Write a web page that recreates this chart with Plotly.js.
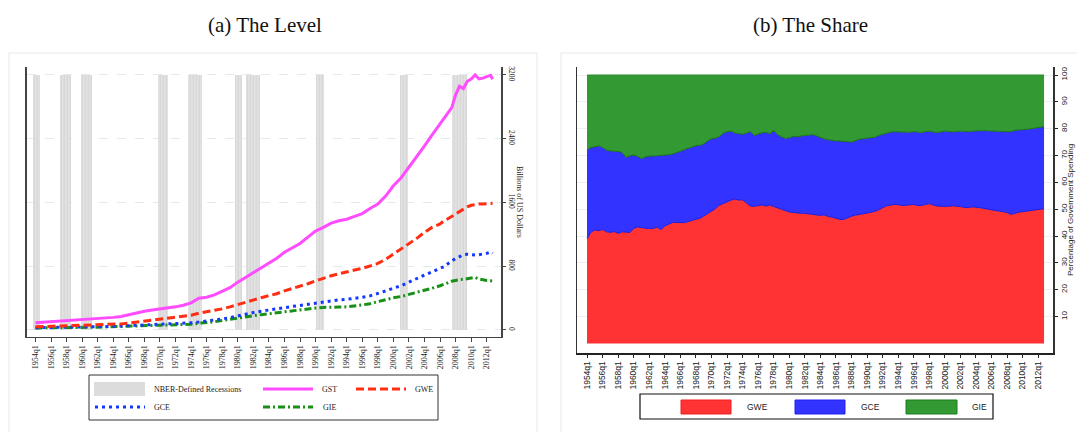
<!DOCTYPE html>
<html>
<head>
<meta charset="utf-8">
<script src="https://cdn.plot.ly/plotly-3.0.1.min.js"></script>
<style>
  html, body { margin: 0; padding: 0; background: #ffffff; }
  #chart { width: 1077px; height: 432px; }
</style>
</head>
<body>
<div id="chart"></div>
<script>
// ---------- Government spending, billions of US dollars ----------
const levelPeriods = [
  "1954q1","1955q1","1956q1","1957q1","1958q1","1959q1","1960q1","1961q1","1962q1","1963q1",
  "1964q1","1965q1","1966q1","1967q1","1968q1","1969q1","1970q1","1971q1","1972q1","1973q1",
  "1974q1","1975q1","1976q1","1977q1","1978q1","1979q1","1980q1","1981q1","1982q1","1983q1",
  "1984q1","1985q1","1986q1","1987q1","1988q1","1989q1","1990q1","1991q1","1992q1","1993q1",
  "1994q1","1995q1","1996q1","1997q1","1998q1","1999q1","2000q1","2001q1","2002q1","2003q1",
  "2004q1","2005q1","2006q1","2006q3","2007q1","2007q3","2008q1","2008q3","2009q1","2009q3",
  "2010q1","2010q3","2011q1","2011q3","2012q1","2012q3","2012q4"
];
const gst = [
  92,98,108,112,117,122,125,132,140,150,
  158,168,190,220,235,250,262,278,290,310,
  340,398,410,440,480,530,600,660,720,775,
  835,900,975,1030,1085,1165,1240,1288,1340,1370,
  1390,1425,1460,1525,1580,1680,1810,1910,2040,2170,
  2310,2450,2580,2650,2720,2790,2950,3060,3030,3120,
  3150,3200,3150,3160,3180,3195,3146
];
const gwe = [
  40,43,47,50,52,54,56,59,62,66,
  70,76,86,98,108,119,130,141,152,165,
  185,210,226,243,265,290,320,350,380,405,
  430,455,490,520,545,580,615,650,680,705,
  732,752,772,800,835,885,950,1010,1080,1150,
  1225,1290,1330,1370,1395,1425,1460,1490,1515,1545,
  1565,1575,1580,1582,1585,1590,1590
];
const gce = [
  28,29,31,33,35,36,38,40,42,44,
  46,49,53,58,62,66,70,74,78,83,
  90,100,110,122,138,155,178,198,218,235,
  252,268,283,295,308,322,335,350,368,378,
  385,395,410,428,455,490,525,555,600,640,
  690,730,770,795,830,865,900,920,945,950,
  945,940,945,950,962,980,962
];
const gie = [
  25,25,27,28,29,30,31,33,35,38,
  41,44,49,53,56,58,59,60,61,64,
  72,85,92,103,118,135,150,165,178,192,
  205,218,232,245,256,266,275,283,290,288,
  290,300,314,330,355,382,405,420,445,470,
  495,525,555,570,592,612,625,632,636,645,
  655,660,640,628,622,618,615
];

// NBER recession spans, decimal years
const recessionStart = [1953.7, 1957.1, 1959.9, 1969.7, 1973.65, 1979.65, 1981.1, 1990.05, 2000.85, 2007.55];
const recessionEnd   = [1954.6, 1958.5, 1961.2, 1971.0, 1975.4, 1980.6, 1982.9, 1991.1, 2001.9, 2009.4];
const recessionBandTop = 3200;

// ---------- Shares of government spending, percent (half-yearly) ----------
const shareGWE = [
  39.0,41.5,42.3,42.0,42.5,41.6,41.4,41.7,41.0,41.6,
  41.5,41.3,42.9,43.4,43.2,42.9,42.9,42.8,43.4,42.4,
  43.8,44.5,45.1,45.1,45.1,45.0,45.4,46.0,46.3,46.6,
  47.5,48.4,49.5,50.2,51.5,52.2,52.8,53.4,53.8,53.4,
  53.5,52.5,51.2,51.1,51.4,51.6,51.2,51.6,51.0,50.5,
  50.0,49.4,49.0,48.8,48.6,48.5,48.5,48.3,48.1,47.7,
  47.7,47.9,47.3,47.1,46.7,46.2,46.2,46.9,47.4,47.8,
  48.0,48.3,48.6,48.9,49.2,49.8,50.7,51.3,51.5,51.8,
  51.7,51.4,51.5,51.7,51.8,51.4,51.4,51.8,52.1,51.6,
  51.2,51.1,51.0,51.1,51.3,51.2,51.0,50.7,50.6,50.9,
  50.8,50.6,50.3,50.0,49.8,49.6,49.3,49.1,48.8,48.1,
  48.6,48.9,49.1,49.3,49.6,49.7,49.9,50.0,50.2
];
const shareGCE = [
  33.1,31.5,31.0,31.6,30.5,30.4,30.3,30.0,30.5,29.6,
  27.8,28.6,27.3,26.3,25.6,26.6,26.9,27.0,26.5,27.5,
  26.3,25.8,25.5,25.9,26.5,27.2,27.3,27.3,27.4,27.2,
  26.8,27.1,26.8,26.3,25.5,26.1,26.1,25.7,24.6,24.8,
  24.4,25.9,27.7,26.4,26.5,26.9,27.4,26.6,28.3,27.3,
  27.0,27.0,27.6,28.4,28.4,28.8,29.0,29.3,29.7,29.6,
  28.9,28.3,28.6,28.5,28.7,29.2,29.2,28.3,27.6,27.9,
  28.1,28.0,27.8,27.7,27.6,27.7,27.3,27.0,27.2,27.1,
  27.1,27.3,27.1,27.0,27.1,27.4,27.2,27.1,27.0,27.2,
  27.4,27.7,28.1,27.9,27.5,27.7,28.1,28.3,28.3,28.2,
  28.4,28.7,29.0,29.2,29.3,29.4,29.6,29.7,30.1,30.8,
  30.8,30.6,30.5,30.3,30.3,30.5,30.5,30.6,30.6
];
const shareGIE = [
  27.9,27.0,26.7,26.4,27.0,28.0,28.3,28.3,28.5,28.8,
  30.7,30.1,29.8,30.3,31.2,30.5,30.2,30.2,30.1,30.1,
  29.9,29.7,29.4,29.0,28.4,27.8,27.3,26.7,26.3,26.2,
  25.7,24.5,23.7,23.5,23.0,21.7,21.1,20.9,21.6,21.8,
  22.1,21.6,21.1,22.5,22.1,21.5,21.4,21.8,20.7,22.2,
  23.0,23.6,23.4,22.8,23.0,22.7,22.5,22.4,22.2,22.7,
  23.4,23.8,24.1,24.4,24.6,24.6,24.6,24.8,25.0,24.3,
  23.9,23.7,23.6,23.4,23.2,22.5,22.0,21.7,21.3,21.1,
  21.2,21.3,21.4,21.3,21.1,21.2,21.4,21.1,20.9,21.2,
  21.4,21.2,20.9,21.0,21.2,21.1,20.9,21.0,21.1,20.9,
  20.8,20.7,20.7,20.8,20.9,21.0,21.1,21.2,21.1,21.1,
  20.6,20.5,20.4,20.4,20.1,19.8,19.6,19.4,19.2
];

// Time-axis tick labels (every second year)
const tickLabels = [
  "1954q1","1956q1","1958q1","1960q1","1962q1","1964q1","1966q1","1968q1","1970q1","1972q1",
  "1974q1","1976q1","1978q1","1980q1","1982q1","1984q1","1986q1","1988q1","1990q1","1992q1",
  "1994q1","1996q1","1998q1","2000q1","2002q1","2004q1","2006q1","2008q1","2010q1","2012q1"
];
const levelTicks = [0, 800, 1600, 2400, 3200];
const shareTicks = [10, 20, 30, 40, 50, 60, 70, 80, 90, 100];

// ---------- helpers ----------
const toYear = q => { const [y, k] = q.split("q"); return +y + (+k - 1) / 4; };
const levelX = levelPeriods.map(toYear);
const tickVals = tickLabels.map(toYear);

// half-yearly period index for the share series
const sharePeriods = [];
for (let y = 1954; y <= 2012; y++) { sharePeriods.push(y + "q1", y + "q3"); }
sharePeriods.push("2012q4");
const shareX = sharePeriods.map(toYear);

const W = 1077, H = 432;
const fx = p => p / W;
const fy = p => 1 - p / H;

const SERIF = "Liberation Serif, Times New Roman, serif";
const SANS = "Liberation Sans, Arial, sans-serif";

const C = {
  gst: "#ff4cff", gwe: "#ff2d12", gce: "#1438ff", gie: "#189018",
  shRed: "#ff3333", shBlue: "#3333ff", shGreen: "#339933"
};
const DASH = { gwe: "8px,4px", gce: "3px,4px", gie: "7px,3px,2px,3px" };

// ---------- traces ----------
const traces = [
  {
    type: "bar", xaxis: "x", yaxis: "y",
    x: recessionStart.map((s, i) => (s + recessionEnd[i]) / 2),
    width: recessionStart.map((s, i) => recessionEnd[i] - s),
    y: recessionStart.map(() => recessionBandTop),
    base: 0,
    marker: {
      color: "#dedede", line: { width: 0 },
      pattern: { shape: "|", size: 3, solidity: 0.25, fgcolor: "#cfcfcf", bgcolor: "#e2e2e2" }
    },
    name: "NBER-Defined Recessions"
  },
  { type: "scatter", mode: "lines", xaxis: "x", yaxis: "y", x: levelX, y: gie, name: "GIE",
    line: { color: C.gie, width: 3, dash: DASH.gie } },
  { type: "scatter", mode: "lines", xaxis: "x", yaxis: "y", x: levelX, y: gce, name: "GCE",
    line: { color: C.gce, width: 3, dash: DASH.gce } },
  { type: "scatter", mode: "lines", xaxis: "x", yaxis: "y", x: levelX, y: gwe, name: "GWE",
    line: { color: C.gwe, width: 3, dash: DASH.gwe } },
  { type: "scatter", mode: "lines", xaxis: "x", yaxis: "y", x: levelX, y: gst, name: "GST",
    line: { color: C.gst, width: 3 } },

  // stacked shares: each outline sits on the boundary with the next layer
  { type: "scatter", mode: "lines", xaxis: "x2", yaxis: "y2", x: shareX, y: shareGWE, name: "GWE",
    stackgroup: "share", fillcolor: C.shRed, line: { color: "#1c1cd8", width: 1 } },
  { type: "scatter", mode: "lines", xaxis: "x2", yaxis: "y2", x: shareX, y: shareGCE, name: "GCE",
    stackgroup: "share", fillcolor: C.shBlue, line: { color: "#1b6f1b", width: 1 } },
  { type: "scatter", mode: "lines", xaxis: "x2", yaxis: "y2", x: shareX, y: shareGIE, name: "GIE",
    stackgroup: "share", fillcolor: C.shGreen, line: { color: "#2a8a2a", width: 1 } }
];

// ---------- hand-built legends, panel frames ----------
const shapes = [
  // light panel frames
  { type: "rect", xref: "paper", yref: "paper", x0: fx(9), x1: fx(537), y0: -0.1, y1: fy(53),
    line: { color: "#e3e8ea", width: 1 }, fillcolor: "rgba(0,0,0,0)", layer: "below" },
  { type: "rect", xref: "paper", yref: "paper", x0: fx(561), x1: 1.1, y0: -0.1, y1: fy(53),
    line: { color: "#e3e8ea", width: 1 }, fillcolor: "rgba(0,0,0,0)", layer: "below" },

  // level legend
  { type: "rect", xref: "paper", yref: "paper", x0: fx(89), x1: fx(438), y0: fy(420), y1: fy(375),
    line: { color: "#333333", width: 1 }, fillcolor: "#ffffff" },
  { type: "rect", xref: "paper", yref: "paper", x0: fx(94), x1: fx(145), y0: fy(396), y1: fy(382),
    line: { width: 0 }, fillcolor: "#dcdcdc" },
  { type: "line", xref: "paper", yref: "paper", x0: fx(263), x1: fx(313), y0: fy(389), y1: fy(389),
    line: { color: C.gst, width: 3 } },
  { type: "line", xref: "paper", yref: "paper", x0: fx(356), x1: fx(406), y0: fy(389), y1: fy(389),
    line: { color: C.gwe, width: 3, dash: DASH.gwe } },
  { type: "line", xref: "paper", yref: "paper", x0: fx(95), x1: fx(145), y0: fy(407), y1: fy(407),
    line: { color: C.gce, width: 3, dash: DASH.gce } },
  { type: "line", xref: "paper", yref: "paper", x0: fx(263), x1: fx(313), y0: fy(407), y1: fy(407),
    line: { color: C.gie, width: 3, dash: DASH.gie } },

  // share legend
  { type: "rect", xref: "paper", yref: "paper", x0: fx(640), x1: fx(993), y0: fy(419), y1: fy(394),
    line: { color: "#111111", width: 1.2 }, fillcolor: "#ffffff" },
  { type: "rect", xref: "paper", yref: "paper", x0: fx(681), x1: fx(731), y0: fy(414), y1: fy(400),
    line: { color: "#ee2222", width: 1 }, fillcolor: C.shRed },
  { type: "rect", xref: "paper", yref: "paper", x0: fx(795), x1: fx(845), y0: fy(414), y1: fy(400),
    line: { color: "#2222ee", width: 1 }, fillcolor: C.shBlue },
  { type: "rect", xref: "paper", yref: "paper", x0: fx(906), x1: fx(957), y0: fy(414), y1: fy(400),
    line: { color: "#1f7a1f", width: 1 }, fillcolor: C.shGreen }
];

const ann = (text, x, y, font, extra) => Object.assign({
  text, xref: "paper", yref: "paper", x: fx(x), y: fy(y), showarrow: false,
  xanchor: "left", yanchor: "middle", font
}, extra || {});

const legSerif = { family: SERIF, size: 8, color: "#222" };
const legSans = { family: SANS, size: 8.5, color: "#222" };

const annotations = [
  ann("(a) The Level", 265, 25, { family: SERIF, size: 21, color: "#111" }, { xanchor: "center" }),
  ann("(b) The Share", 810, 25, { family: SERIF, size: 21, color: "#111" }, { xanchor: "center" }),
  ann("Billions of US Dollars", 520, 202, { family: SERIF, size: 8, color: "#222" },
      { xanchor: "center", textangle: 90 }),
  ann("Percentage of Government Spending", 1070, 210, { family: SANS, size: 8, color: "#222" },
      { xanchor: "center", textangle: -90 }),
  ann("NBER-Defined Recessions", 152, 389, legSerif),
  ann("GST", 320, 389, legSerif),
  ann("GWE", 413, 389, legSerif),
  ann("GCE", 152, 407, legSerif),
  ann("GIE", 321, 407, legSerif),
  ann("GWE", 745, 407, legSans),
  ann("GCE", 859, 407, legSans),
  ann("GIE", 970, 407, legSans)
];

const layout = {
  width: W, height: H, autosize: false,
  margin: { l: 0, r: 0, t: 0, b: 0, pad: 0 },
  paper_bgcolor: "#ffffff", plot_bgcolor: "rgba(0,0,0,0)",
  showlegend: false, hovermode: false, bargap: 0,
  xaxis: {
    domain: [26.7 / W, 501 / W], range: [1952.87, 2013.83], anchor: "y",
    showgrid: false, zeroline: false,
    showline: true, linecolor: "#444", linewidth: 1.5,
    ticks: "outside", ticklen: 4, tickcolor: "#444", tickwidth: 1,
    tickmode: "array", tickvals: tickVals, ticktext: tickLabels, tickangle: -90,
    tickfont: { family: SERIF, size: 8, color: "#222" }, automargin: false
  },
  yaxis: {
    domain: [95.5 / H, 365 / H], range: [-82, 3300], anchor: "x", side: "right",
    showgrid: true, gridcolor: "#e3eaec", gridwidth: 1, griddash: "dash", zeroline: false,
    showline: true, mirror: true, linecolor: "#444", linewidth: 1.5,
    ticks: "outside", ticklen: 3, tickcolor: "#444",
    tickmode: "array", tickvals: levelTicks, tickangle: 90,
    tickfont: { family: SERIF, size: 7.5, color: "#222" }, automargin: false
  },
  xaxis2: {
    domain: [577 / W, 1053 / W], range: [1952.71, 2013.9], anchor: "y2",
    showgrid: false, zeroline: false,
    showline: true, linecolor: "#222", linewidth: 1.5,
    ticks: "outside", ticklen: 3, tickcolor: "#222",
    tickmode: "array", tickvals: tickVals, ticktext: tickLabels, tickangle: -90,
    tickfont: { family: SANS, size: 8.5, color: "#222" }, automargin: false
  },
  yaxis2: {
    domain: [78.7 / H, 365.3 / H], range: [-3.65, 103.1], anchor: "x2", side: "right",
    showgrid: true, gridcolor: "#edf0f2", gridwidth: 1, zeroline: false,
    showline: true, mirror: true, linecolor: "#333", linewidth: 1.5,
    ticks: "outside", ticklen: 3, tickcolor: "#222",
    tickmode: "array", tickvals: shareTicks, tickangle: -90,
    tickfont: { family: SANS, size: 8, color: "#222" }, automargin: false
  },
  shapes, annotations
};

Plotly.newPlot("chart", traces, layout, { staticPlot: true, displayModeBar: false });
</script>
</body>
</html>
